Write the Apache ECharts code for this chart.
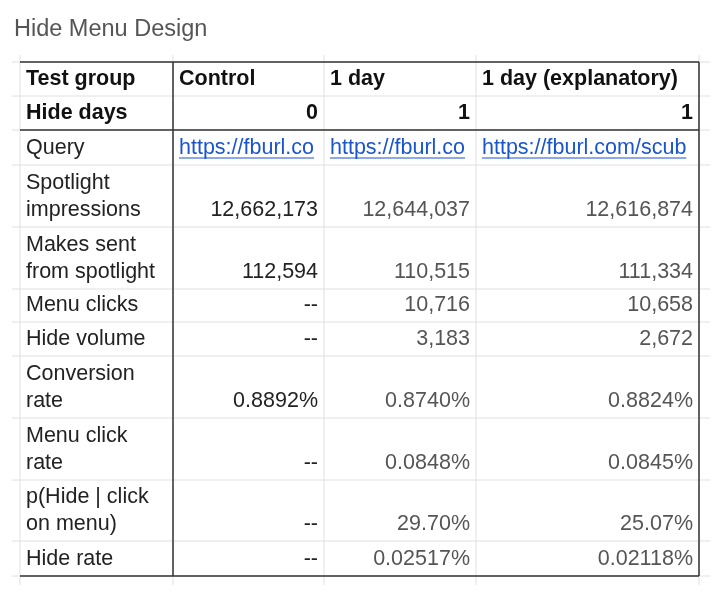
<!DOCTYPE html>
<html><head><meta charset="utf-8">
<script src="https://cdn.jsdelivr.net/npm/echarts@6/dist/echarts.min.js"></script>
<style>html,body{margin:0;padding:0;background:#fff}#c{width:728px;height:602px}</style>
</head><body><div id="c"></div>
<script>
const title = "Hide Menu Design";
const headers = ["Test group", "Control", "1 day", "1 day (explanatory)"];
const hideDays = ["Hide days", "0", "1", "1"];
const query = ["Query", "https://fburl.com/scuba", "https://fburl.com/scuba", "https://fburl.com/scuba"];
const rowLabels = [["Spotlight","impressions"],["Makes sent","from spotlight"],["Menu clicks"],["Hide volume"],["Conversion","rate"],["Menu click","rate"],["p(Hide | click","on menu)"],["Hide rate"]];
const controlVals = ["12,662,173","112,594","--","--","0.8892%","--","--","--"];
const oneDayVals = ["12,644,037","110,515","10,716","3,183","0.8740%","0.0848%","29.70%","0.02517%"];
const explVals = ["12,616,874","111,334","10,658","2,672","0.8824%","0.0845%","25.07%","0.02118%"];

const colX = [20, 173, 324, 476, 699];
const rowY = [62, 96, 130, 165, 227, 289, 322, 356, 418, 480, 541, 576];
const F = "Liberation Sans, Arial, sans-serif";
const FS = '21.5px ';
const els = [];
const txt = (x, y, s, o) => els.push({type:'text', x, y, style:Object.assign({text:s, font:FS+F, fill:'#222', textVerticalAlign:'bottom'}, o||{})});
const line = (x1,y1,x2,y2,c,w) => els.push({type:'line', shape:{x1,y1,x2,y2}, style:{stroke:c, lineWidth:w||1}, z:w>1?5:1});
els.push({type:'text', x:14, y:30, style:{text:title, font:'23.5px '+F, fill:'#555', textVerticalAlign:'middle'}});
for (const y of rowY) line(12, y, 710, y, '#e0e0e0', 1);
for (const x of colX) line(x, 55, x, 585, '#e0e0e0', 1);
line(colX[0], rowY[0], colX[4], rowY[0], '#333', 1.5);
line(colX[0], rowY[2], colX[4], rowY[2], '#333', 1.5);
line(colX[0], rowY[11], colX[4], rowY[11], '#333', 1.5);
line(colX[1], rowY[0], colX[1], rowY[11], '#333', 1.5);
line(colX[4], rowY[0], colX[4], rowY[11], '#333', 1.5);
const pad = 6;
const rightX = i => colX[i+1] - pad;
headers.forEach((h,i)=> txt(colX[i]+pad, rowY[1]-6, h, {font:'bold '+FS+F, fill:'#111'}));
hideDays.forEach((h,i)=> i===0 ? txt(colX[0]+pad, rowY[2]-6, h, {font:'bold '+FS+F, fill:'#111'})
  : txt(rightX(i), rowY[2]-6, h, {font:'bold '+FS+F, fill:'#111', textAlign:'right'}));
txt(colX[0]+pad, rowY[3]-6, query[0]);
const ctx = document.createElement('canvas').getContext('2d'); ctx.font = FS+F;
for (let i=1;i<4;i++){
  const maxW = colX[i+1]-colX[i]-pad-2;
  let s = query[i];
  while (ctx.measureText(s).width > maxW) s = s.slice(0,-1);
  txt(colX[i]+pad, rowY[3]-6, s, {fill:'#1a55cc'});
  line(colX[i]+pad, rowY[3]-7, colX[i]+pad+ctx.measureText(s).width, rowY[3]-7, '#1a55cc', 1);
}
rowLabels.forEach((lab, r)=>{
  const yb = rowY[r+4]-6;
  if (lab.length===2){ txt(colX[0]+pad, yb-27, lab[0]); txt(colX[0]+pad, yb, lab[1]); }
  else txt(colX[0]+pad, yb, lab[0]);
  txt(rightX(1), yb, controlVals[r], {textAlign:'right', fill:'#222'});
  txt(rightX(2), yb, oneDayVals[r], {textAlign:'right', fill:'#555'});
  txt(rightX(3), yb, explVals[r], {textAlign:'right', fill:'#555'});
});
const chart = echarts.init(document.getElementById('c'));
chart.setOption({animation:false, graphic:{elements:els}});
</script></body></html>
